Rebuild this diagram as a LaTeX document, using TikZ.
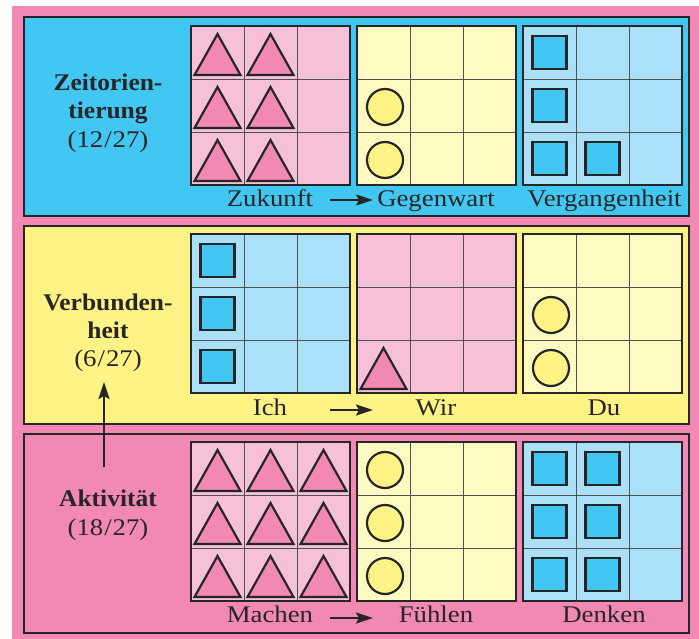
\documentclass[tikz,border=0pt]{standalone}
\usepackage{fontspec}
\setmainfont{Liberation Serif}[FakeStretch=1.12]
\newfontfamily\headfont{Liberation Serif}[FakeStretch=1.065]
\usetikzlibrary{arrows.meta}
\definecolor{outerpink}{HTML}{F288B4}
\definecolor{lightpink}{HTML}{F7C0D9}
\definecolor{panelblue}{HTML}{42C7F3}
\definecolor{lightblue}{HTML}{AAE0FA}
\definecolor{panelyellow}{HTML}{FFF385}
\definecolor{lightyellow}{HTML}{FFF9C2}
\definecolor{ink}{HTML}{262626}
\definecolor{gridgrey}{HTML}{505050}
\tikzset{
  panelbox/.style={draw=ink, line width=2pt},
  gridline/.style={draw=gridgrey, line width=0.9pt},
  gridborder/.style={draw=ink, line width=2.2pt},
  markline/.style={draw=ink, line width=2.2pt, line join=miter},
  lbl/.style={anchor=base, inner sep=0pt, text=ink, font=\fontsize{24}{28}\selectfont},
  headlbl/.style={anchor=base, inner sep=0pt, text=ink, font=\headfont\fontsize{24}{28}\selectfont\bfseries},
  flow/.style={draw=ink, line width=2.5bp, -{Stealth[length=17bp,width=11bp,inset=3bp]}},
}
\newcommand{\cellgrid}[3]{%
  \fill[#3] (#1,#2) rectangle ++(159,159);
  \draw[gridline] (#1+53,#2) -- ++(0,159) (#1+106,#2) -- ++(0,159)
                  (#1,#2+53) -- ++(159,0) (#1,#2+106) -- ++(159,0);
  \draw[gridborder] (#1,#2) rectangle ++(159,159);
}
% cell centre from grid origin, column, row
\newcommand{\ctri}[4]{\draw[markline, fill=outerpink]
  (#1+26.5+53*#3-23,#2+26.5+53*#4+22.5) -- (#1+26.5+53*#3,#2+26.5+53*#4-18.5)
  -- (#1+26.5+53*#3+23,#2+26.5+53*#4+22.5) -- cycle;}
\newcommand{\ccirc}[4]{\draw[markline, fill=panelyellow]
  (#1+28+53*#3,#2+28+53*#4) circle[radius=18];}
\newcommand{\csq}[4]{\draw[markline, fill=panelblue]
  (#1+26.5+53*#3-17,#2+26.5+53*#4-16.5) rectangle ++(34,33);}
\begin{document}
\begin{tikzpicture}[x=1bp,y=-1bp]
\useasboundingbox (0,0) rectangle (699,639);
\fill[white] (0,0) rectangle (699,639);
\fill[outerpink] (12,6) rectangle (699,639);
% panels
\filldraw[panelbox, fill=panelblue] (24,17) rectangle (689,216);
\filldraw[panelbox, fill=panelyellow] (24,226) rectangle (689,424);
\filldraw[panelbox, fill=outerpink] (24,434) rectangle (689,633);
% panel 1
\cellgrid{191}{26}{lightpink}
\cellgrid{357}{26}{lightyellow}
\cellgrid{523}{26}{lightblue}
\foreach \r in {0,1,2}{\ctri{191}{26}{0}{\r}\ctri{191}{26}{1}{\r}}
\ccirc{357}{26}{0}{1}\ccirc{357}{26}{0}{2}
\csq{523}{26}{0}{0}\csq{523}{26}{0}{1}\csq{523}{26}{0}{2}\csq{523}{26}{1}{2}
% panel 2
\cellgrid{191}{234}{lightblue}
\cellgrid{357}{234}{lightpink}
\cellgrid{523}{234}{lightyellow}
\csq{191}{234}{0}{0}\csq{191}{234}{0}{1}\csq{191}{234}{0}{2}
\ctri{357}{234}{0}{2}
\ccirc{523}{234}{0}{1}\ccirc{523}{234}{0}{2}
% panel 3
\cellgrid{191}{442}{lightpink}
\cellgrid{357}{442}{lightyellow}
\cellgrid{523}{442}{lightblue}
\foreach \c in {0,1,2}{\foreach \r in {0,1,2}{\ctri{191}{442}{\c}{\r}}}
\ccirc{357}{442}{0}{0}\ccirc{357}{442}{0}{1}\ccirc{357}{442}{0}{2}
\foreach \r in {0,1,2}{\csq{523}{442}{0}{\r}\csq{523}{442}{1}{\r}}
% left labels
\node[headlbl] (z1) at (108,90.7) {Zeitorien-};
\node[headlbl] (z2) at (108,118.5) {tierung};
\node[lbl] (z3) at (108,147.5) {(12\kern1pt/\kern1pt27)};
\node[headlbl] (v1) at (108,310.7) {Verbunden-};
\node[headlbl] (v2) at (108,338.5) {heit};
\node[lbl] (v3) at (108,366.7) {(6\kern1pt/\kern1pt27)};
\node[headlbl] (a1) at (108,506) {Aktivität};
\node[lbl] (a2) at (108,535) {(18\kern1pt/\kern1pt27)};
% bottom labels
\node[lbl] (zu) at (270,206.7) {Zukunft};
\node[lbl] (ge) at (436,206.7) {Gegenwart};
\node[lbl] (ve) at (604.5,206.7) {Vergangenheit};
\node[lbl] (ic) at (270,415) {Ich};
\node[lbl] (wi) at (436,415) {Wir};
\node[lbl] (du) at (604,415) {Du};
\node[lbl] (ma) at (270,622.7) {Machen};
\node[lbl] (fu) at (436,622.7) {Fühlen};
\node[lbl] (de) at (604,622.7) {Denken};
% arrows
\coordinate (p1s) at (330,200); \coordinate (p1e) at (373,200);
\coordinate (p2s) at (330,410); \coordinate (p2e) at (373,410);
\coordinate (p3s) at (330,618); \coordinate (p3e) at (373,618);
\coordinate (vs) at (104,467); \coordinate (ve2) at (104,382);
\draw[flow] (p1s) -- (p1e);
\draw[flow] (p2s) -- (p2e);
\draw[flow] (p3s) -- (p3e);
\draw[flow] (vs) -- (ve2);
\end{tikzpicture}
\end{document}
